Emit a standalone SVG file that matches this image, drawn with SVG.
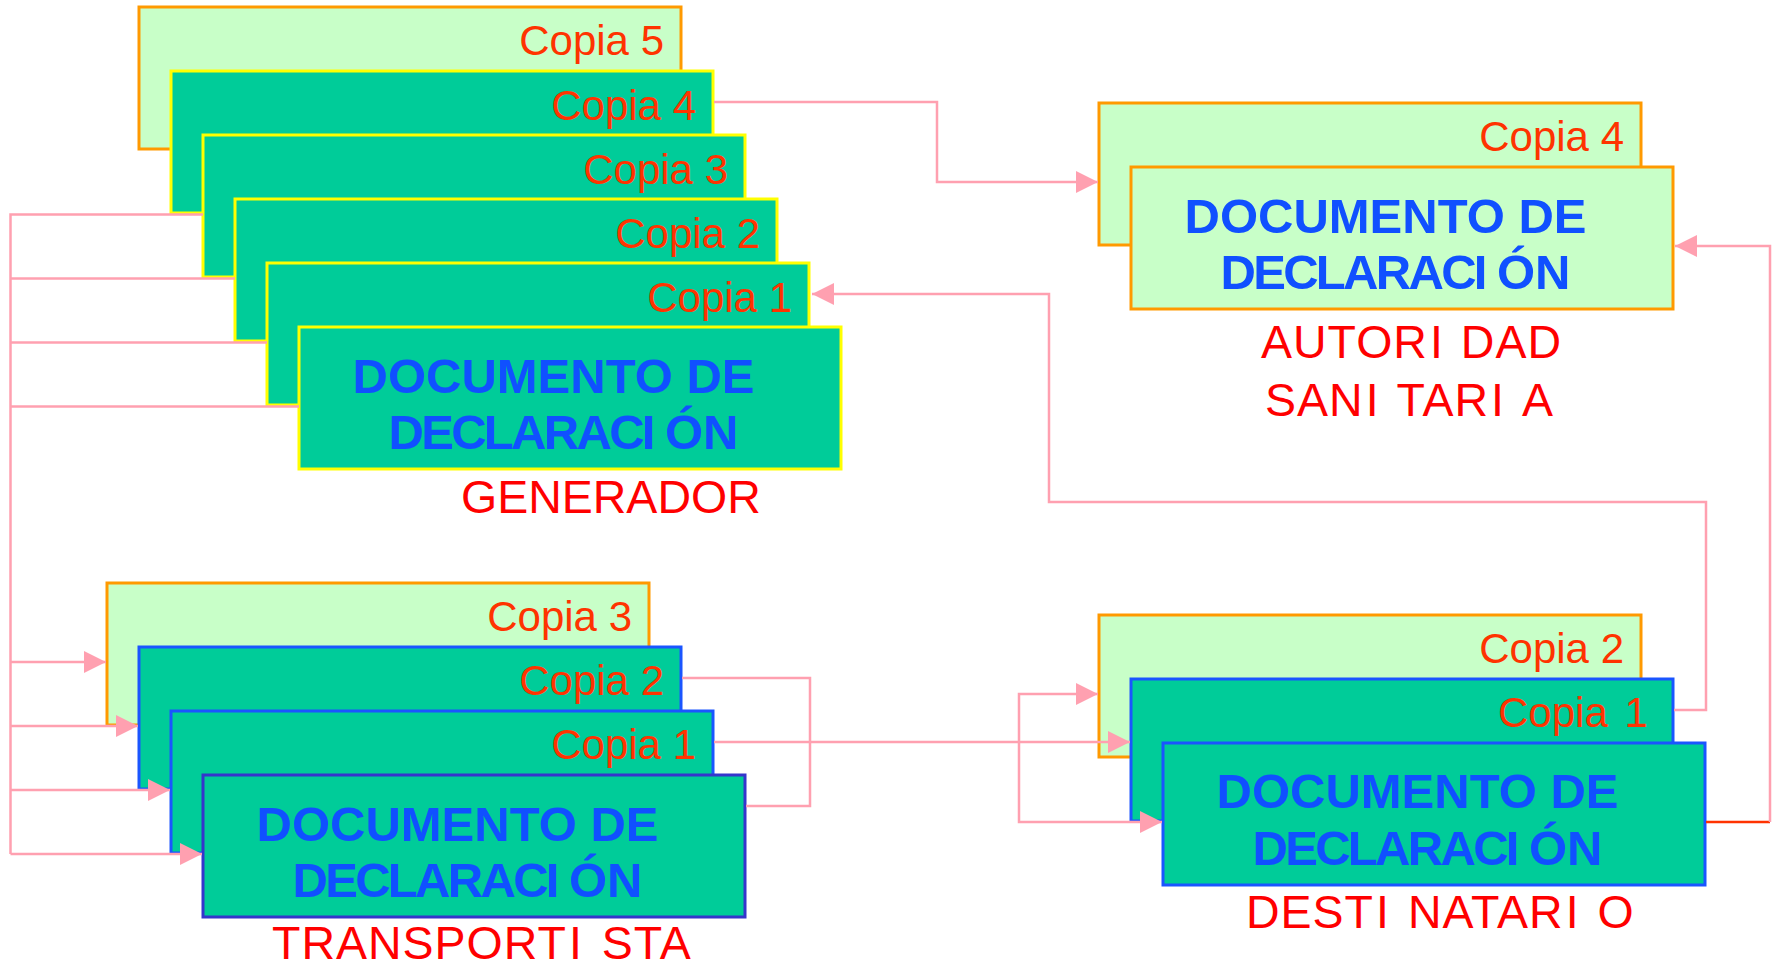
<svg xmlns="http://www.w3.org/2000/svg" width="1775" height="965" viewBox="0 0 1775 965">
<style>
.light{fill:#C8FFC8;stroke:#FF9900;stroke-width:3}
.dy{fill:#00CC99;stroke:#FFFF00;stroke-width:3}
.db{fill:#00CC99;stroke:#1A55FF;stroke-width:3}
.dp{fill:#00CC99;stroke:#3535CC;stroke-width:3}
.copia{font-family:"Liberation Sans",Arial,sans-serif;font-size:42px;fill:#FF3300;text-anchor:end}
.copias{font-family:"Liberation Sans",Arial,sans-serif;font-size:42px;fill:#FF3300;text-anchor:start}
.doc{font-family:"Liberation Sans",Arial,sans-serif;font-size:49px;font-weight:bold;fill:#1050FF}
.lbl{font-family:"Liberation Sans",Arial,sans-serif;font-size:46.5px;fill:#FF0000;letter-spacing:1px}
.con{fill:none;stroke:#FFA0B0;stroke-width:2.5}
.red{fill:none;stroke:#FF3300;stroke-width:2.5}
</style>
<defs>
<marker id="ah" markerUnits="userSpaceOnUse" viewBox="0 0 22 22" refX="22" refY="11" markerWidth="22" markerHeight="22" orient="auto">
<path d="M0,0 L22,11 L0,22 z" fill="#FFA0B0"/>
</marker>
</defs>
<rect width="1775" height="965" fill="#FFFFFF"/>

<g id="generador">
<rect class="light" x="139" y="7" width="542" height="142"/>
<text class="copia" x="664" y="55">Copia 5</text>
<rect class="dy" x="171" y="71" width="542" height="142"/>
<text class="copia" x="696" y="120">Copia 4</text>
<rect class="dy" x="203" y="135" width="542" height="142"/>
<text class="copia" x="728" y="184">Copia 3</text>
<rect class="dy" x="235" y="199" width="542" height="142"/>
<text class="copia" x="760" y="248">Copia 2</text>
<rect class="dy" x="267" y="263" width="542" height="142"/>
<text class="copia" x="792" y="312">Copia 1</text>
<rect class="dy" x="299" y="327" width="542" height="142"/>
<text class="doc" x="352.5" y="393">DOCUMENTO DE</text>
<text class="doc" x="388.5" y="449" letter-spacing="-2.7">DECLARACI<tspan x="665" letter-spacing="0">ÓN</tspan></text>
<text class="lbl" x="461" y="513" style="letter-spacing:0">GENERADOR</text>
</g>

<g id="transportista">
<rect class="light" x="107" y="583" width="542" height="142"/>
<text class="copia" x="632" y="631">Copia 3</text>
<rect class="db" x="139" y="647" width="542" height="142"/>
<text class="copia" x="664" y="695">Copia 2</text>
<rect class="db" x="171" y="711" width="542" height="142"/>
<text class="copia" x="696" y="759">Copia 1</text>
<rect class="dp" x="203" y="775" width="542" height="142"/>
<text class="doc" x="256.5" y="841">DOCUMENTO DE</text>
<text class="doc" x="292.5" y="897" letter-spacing="-2.7">DECLARACI<tspan x="569" letter-spacing="0">ÓN</tspan></text>
<text class="lbl" x="272" y="959">TRANSPORT<tspan dx="2">I</tspan><tspan dx="19">STA</tspan></text>
</g>

<g id="autoridad">
<rect class="light" x="1099" y="103" width="542" height="142"/>
<text class="copia" x="1624" y="151">Copia 4</text>
<rect class="light" x="1131" y="167" width="542" height="142"/>
<text class="doc" x="1184.5" y="233">DOCUMENTO DE</text>
<text class="doc" x="1220.5" y="289" letter-spacing="-2.7">DECLARACI<tspan x="1497" letter-spacing="0">ÓN</tspan></text>
<text class="lbl" x="1261" y="358">AUTOR<tspan dx="2">I</tspan><tspan dx="17">DAD</tspan></text>
<text class="lbl" x="1265" y="416">SAN<tspan dx="2">I</tspan><tspan dx="17">TAR</tspan><tspan dx="2">I</tspan><tspan dx="17">A</tspan></text>
</g>

<g id="destinatario">
<rect class="light" x="1099" y="615" width="542" height="142"/>
<text class="copia" x="1624" y="663">Copia 2</text>
<rect class="db" x="1131" y="679" width="542" height="142"/>
<text class="copias" x="1498" y="727">Copia <tspan dx="5">1</tspan></text>
<rect class="db" x="1163" y="743" width="542" height="142"/>
<text class="doc" x="1216.5" y="808">DOCUMENTO DE</text>
<text class="doc" x="1252.5" y="865" letter-spacing="-2.7">DECLARACI<tspan x="1529" letter-spacing="0">ÓN</tspan></text>
<text class="lbl" x="1246" y="928">DEST<tspan dx="2">I</tspan><tspan dx="18">NATAR</tspan><tspan dx="2">I</tspan><tspan dx="18">O</tspan></text>
</g>

<g id="connectors">
<path class="con" d="M203,214.5 H10.5 V854"/>
<path class="con" d="M235,278.5 H10.5"/>
<path class="con" d="M267,342.5 H10.5"/>
<path class="con" d="M299,406.5 H10.5"/>
<path class="con" d="M10.5,662 H106" marker-end="url(#ah)"/>
<path class="con" d="M10.5,726 H138" marker-end="url(#ah)"/>
<path class="con" d="M10.5,790 H170" marker-end="url(#ah)"/>
<path class="con" d="M10.5,854 H202" marker-end="url(#ah)"/>
<path class="con" d="M714,102 H937 V182 H1098" marker-end="url(#ah)"/>
<path class="con" d="M1674,710 H1706 V502 H1049 V294 H812" marker-end="url(#ah)"/>
<path class="red" d="M1706,822 H1770"/>
<path class="con" d="M1770,822 V246 H1675" marker-end="url(#ah)"/>
<path class="con" d="M682,678 H810 V806 H746"/>
<path class="con" d="M714,742 H1130" marker-end="url(#ah)"/>
<path class="con" d="M1019,742 V694 H1098" marker-end="url(#ah)"/>
<path class="con" d="M1019,742 V822 H1162" marker-end="url(#ah)"/>
</g>
</svg>
